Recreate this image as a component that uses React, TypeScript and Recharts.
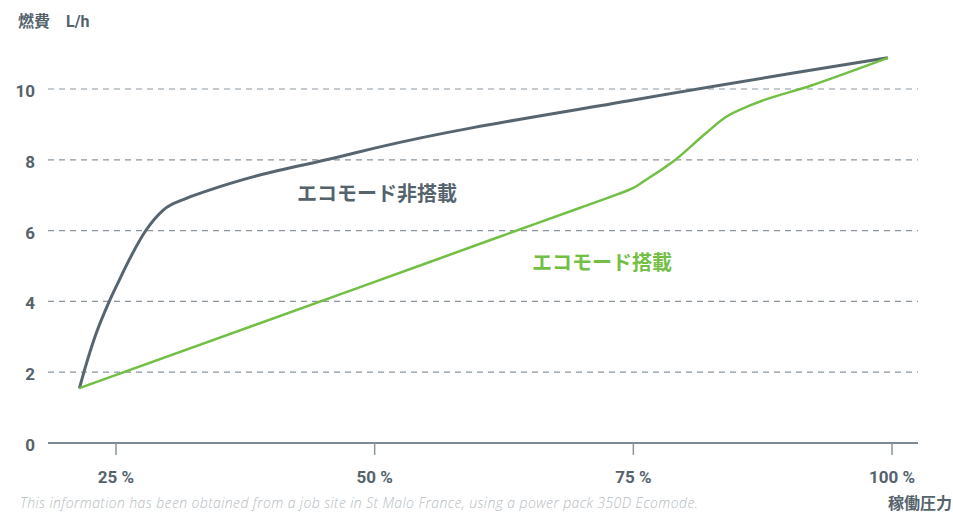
import { LineChart, Line, XAxis, YAxis, CartesianGrid } from 'recharts'

// load ratio (%) vs fuel consumption (L/h)
const ecoOffX = [21.46, 21.9, 22.97, 24.35, 25.32, 26.03, 27.9, 29.57, 31.8, 34.1, 38.9, 46.1, 50, 75, 99.6]
const ecoOffY = [1.54, 2.0, 3.0, 4.0, 4.6, 5.03, 6.01, 6.58, 6.91, 7.15, 7.57, 8.05, 8.33, 9.69, 10.88]

const ecoOnX = [21.46, 50, 62, 70, 73.5, 74.9, 76.2, 79.1, 82, 83.9, 86.4, 92.2, 99.6]
const ecoOnY = [1.55, 4.55, 5.82, 6.66, 7.03, 7.19, 7.43, 8.01, 8.75, 9.2, 9.55, 10.1, 10.88]

const xTicks = [25, 50, 75, 100]
const yTicks = [0, 2, 4, 6, 8, 10]
const gridValues = [2, 4, 6, 8, 10]

const ecoOff = ecoOffX.map((x, i) => ({ x, y: ecoOffY[i] }))
const ecoOn = ecoOnX.map((x, i) => ({ x, y: ecoOnY[i] }))

const GRAY = '#56656f'
const GREEN = '#72bf44'
const TEXT = '#55636d'
const FONT = 'Roboto, "Noto Sans CJK JP", sans-serif'

function YTick({ x, y, payload }: any) {
  return (
    <text x={x} y={y + 2} dy="0.355em" textAnchor="end" fill={TEXT} fontSize={17} fontWeight={700} fontFamily={FONT}>
      {payload.value}
    </text>
  )
}

export default function App() {
  return (
    <div style={{ position: 'absolute', left: 0, top: 0, width: 953, height: 512, overflow: 'hidden', background: '#fff', fontFamily: FONT }}>
      <LineChart width={953} height={512} margin={{ top: 53.6, right: 35, left: 0, bottom: 0 }}>
        <CartesianGrid vertical={false} horizontalValues={gridValues} stroke="#8a959e" strokeDasharray="6 5" strokeWidth={1.2} />
        <XAxis
          dataKey="x"
          type="number"
          domain={[18.43, 102.51]}
          allowDataOverflow
          ticks={xTicks}
          tickFormatter={(v) => `${v} %`}
          height={69}
          tickSize={12}
          tickMargin={16}
          axisLine={{ stroke: '#7d8a93', strokeWidth: 2 }}
          tickLine={{ stroke: '#8a959e', strokeWidth: 1.5 }}
          tick={{ fill: TEXT, fontSize: 17, fontWeight: 700, fontFamily: FONT }}
        />
        <YAxis
          type="number"
          domain={[0, 11]}
          ticks={yTicks}
          width={48}
          axisLine={false}
          tickLine={false}
          tickSize={0}
          tickMargin={13}
          tick={<YTick />}
        />
        <Line data={ecoOff} dataKey="y" type="monotone" stroke={GRAY} strokeWidth={3} dot={false} isAnimationActive={false} />
        <Line data={ecoOn} dataKey="y" type="monotone" stroke={GREEN} strokeWidth={2.5} dot={false} isAnimationActive={false} />
      </LineChart>

      <div style={{ position: 'absolute', left: 18, top: 11, fontSize: 16, fontWeight: 700, color: TEXT, whiteSpace: 'nowrap', lineHeight: '22px' }}>
        燃費　L/h
      </div>
      <div style={{ position: 'absolute', left: 297, top: 181, fontSize: 20, fontWeight: 700, color: TEXT, whiteSpace: 'nowrap', lineHeight: '26px' }}>
        エコモード非搭載
      </div>
      <div style={{ position: 'absolute', left: 532, top: 250, fontSize: 20, fontWeight: 700, color: GREEN, whiteSpace: 'nowrap', lineHeight: '26px' }}>
        エコモード搭載
      </div>
      <div style={{ position: 'absolute', left: 888, top: 493, fontSize: 16, fontWeight: 700, color: TEXT, whiteSpace: 'nowrap', lineHeight: '22px' }}>
        稼働圧力
      </div>
      <div
        style={{
          position: 'absolute',
          left: 20,
          top: 494,
          fontSize: 14,
          letterSpacing: 0.4,
          fontStyle: 'italic',
          fontWeight: 300,
          fontFamily: '"Open Sans", sans-serif',
          color: '#b5bcc2',
          whiteSpace: 'nowrap',
          lineHeight: '18px',
        }}
      >
        This information has been obtained from a job site in St Malo France, using a power pack 350D Ecomode.
      </div>
    </div>
  )
}
